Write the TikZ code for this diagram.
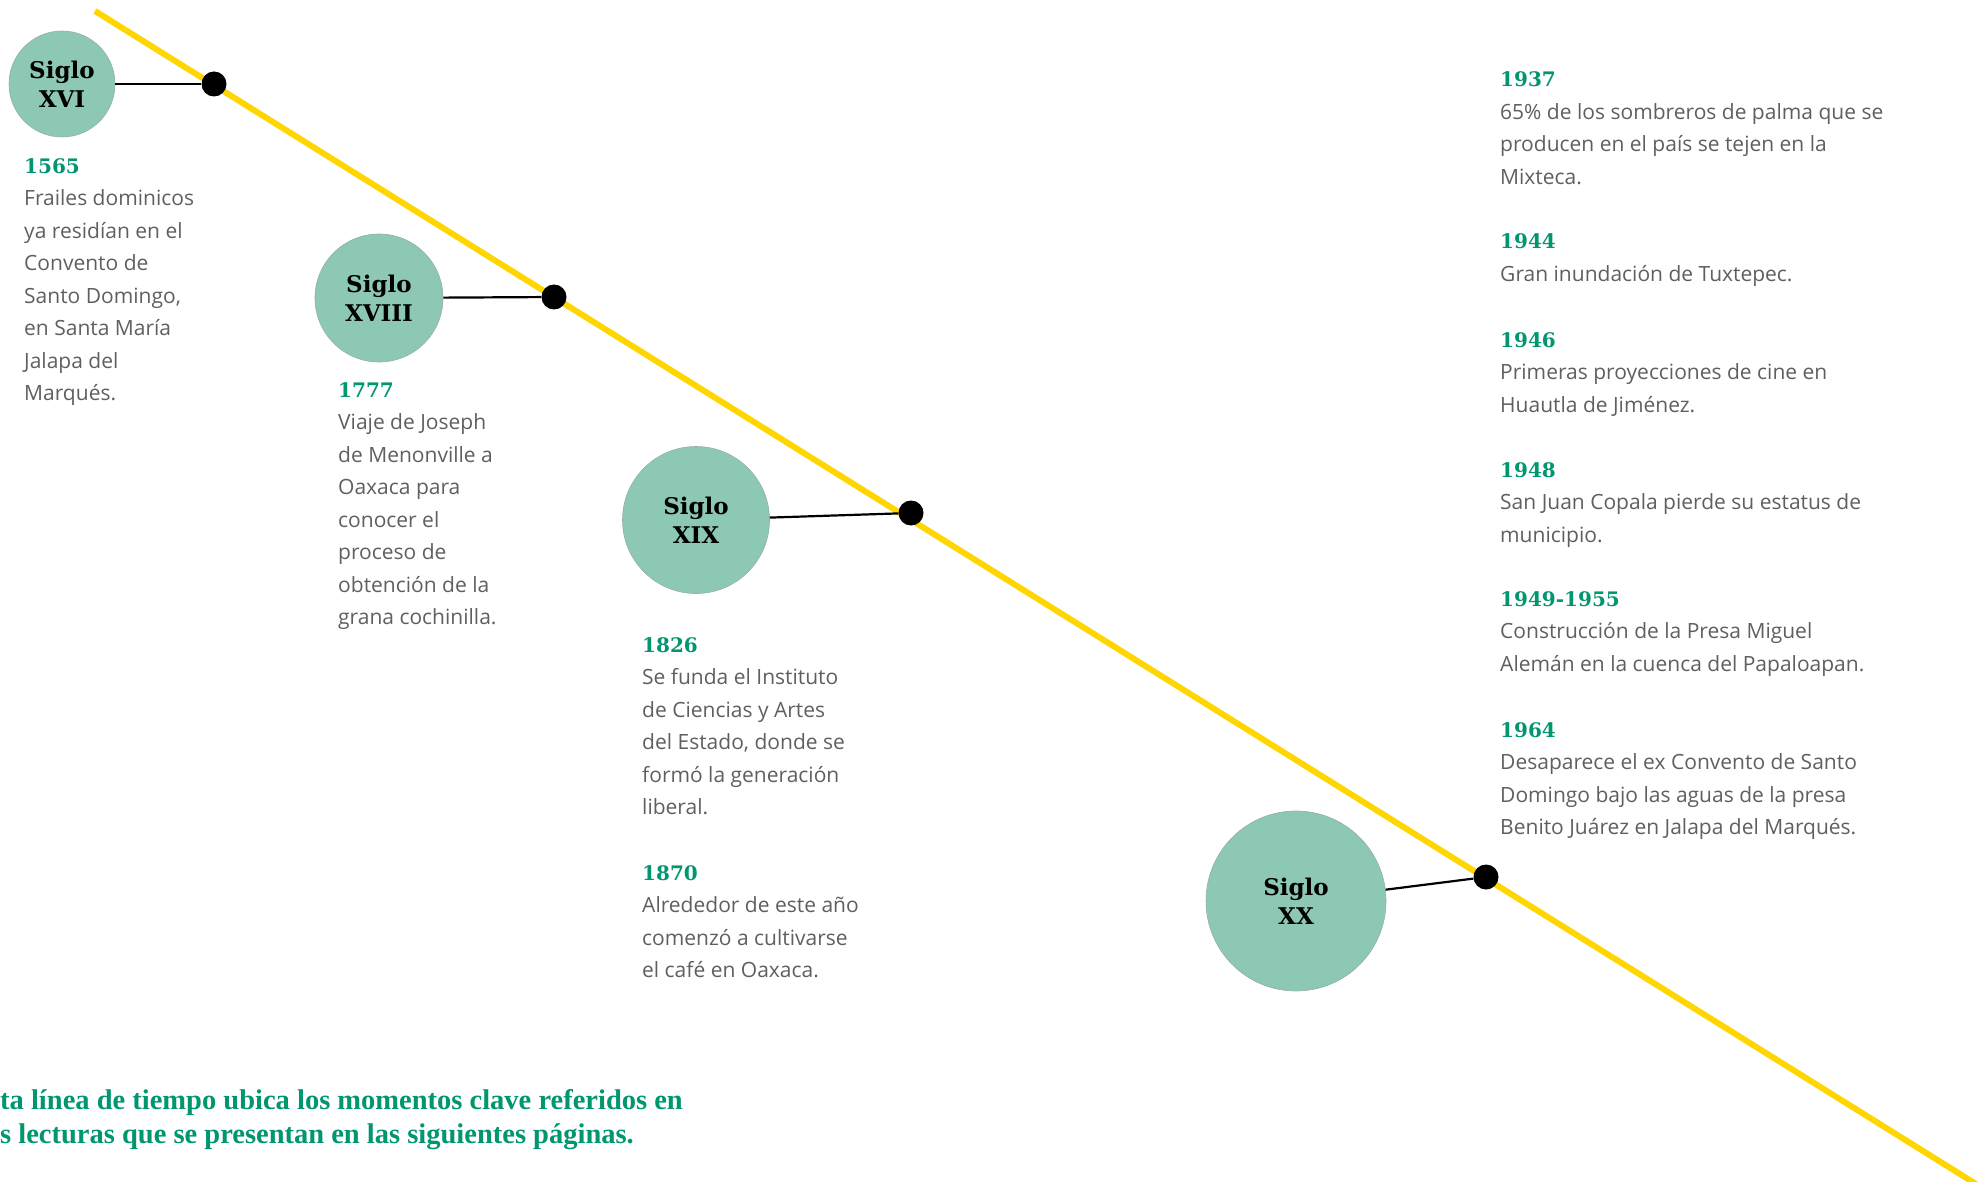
\documentclass[tikz,border=0pt]{standalone}
\usepackage{fontspec}
\setmainfont{Open Sans}
\newfontfamily\titulo{DejaVu Serif}
\newfontfamily\pie{Liberation Serif}
\definecolor{verde}{RGB}{0,150,112}
\definecolor{circulo}{RGB}{140,200,180}
\definecolor{borde}{RGB}{150,175,165}
\definecolor{amarillo}{RGB}{255,214,0}
\definecolor{gris}{RGB}{95,95,95}
\newcommand{\anio}[1]{{\titulo\bfseries\fontsize{20}{32.5}\selectfont\color{verde}#1}}
\tikzset{
  linea/.style={amarillo, line width=6pt},
  siglo/.style={circle, fill=circulo, draw=borde, line width=0.6pt, align=center,
    inner sep=0pt, font=\titulo\bfseries\fontsize{23}{29}\selectfont},
  punto/.style={circle, fill=black, minimum size=25pt, inner sep=0pt},
  enlace/.style={black, line width=2.2pt},
  evento/.style={anchor=base west, align=left, inner sep=0pt, text=gris,
    font=\fontsize{21}{32.5}\selectfont}
}

\begin{document}
\begin{tikzpicture}[x=1pt, y=-1pt]
\clip (0,0) rectangle (1987,1182);
%The time line
	\coordinate (inicio) at (95,11);
	\coordinate (fin) at (2000,1199);
	\draw[linea] (inicio) -- (fin);
%The centuries
	\node[siglo, minimum size=106pt] (s16) at (62,84) {Siglo\\XVI};
	\node[siglo, minimum size=128pt] (s18) at (379,298) {Siglo\\XVIII};
	\node[siglo, minimum size=147pt] (s19) at (696,520) {Siglo\\XIX};
	\node[siglo, minimum size=180pt] (s20) at (1296,901) {Siglo\\XX};
%The dots on the line
	\node[punto] (p16) at (214,84) {};
	\node[punto] (p18) at (554,297) {};
	\node[punto] (p19) at (911,513) {};
	\node[punto] (p20) at (1486,877) {};
	\draw[enlace] (s16) -- (p16);
	\draw[enlace] (s18) -- (p18);
	\draw[enlace] (s19) -- (p19);
	\draw[enlace] (s20) -- (p20);
%The events (anchored at the last line)
	\node[evento] (e1565) at (24,400.5) {\anio{1565}\\Frailes dominicos\\ya residían en el\\Convento de\\Santo Domingo,\\en Santa María\\Jalapa del\\Marqués.};
	\node[evento] (e1777) at (338,624.5) {\anio{1777}\\Viaje de Joseph\\de Menonville a\\Oaxaca para\\conocer el\\proceso de\\obtención de la\\grana cochinilla.};
	\node[evento] (e1826) at (642,814.5) {\anio{1826}\\Se funda el Instituto\\de Ciencias y Artes\\del Estado, donde se\\formó la generación\\liberal.};
	\node[evento] (e1870) at (642,977.5) {\anio{1870}\\Alrededor de este año\\comenzó a cultivarse\\el café en Oaxaca.};
%The twentieth century
	\node[evento] (e1937) at (1500,184.5) {\anio{1937}\\65\% de los sombreros de palma que se\\producen en el país se tejen en la\\Mixteca.};
	\node[evento] (e1944) at (1500,281.5) {\anio{1944}\\Gran inundación de Tuxtepec.};
	\node[evento] (e1946) at (1500,412) {\anio{1946}\\Primeras proyecciones de cine en\\Huautla de Jiménez.};
	\node[evento] (e1948) at (1500,542) {\anio{1948}\\San Juan Copala pierde su estatus de\\municipio.};
	\node[evento] (e1949) at (1500,671) {\anio{1949-1955}\\Construcción de la Presa Miguel\\Alemán en la cuenca del Papaloapan.};
	\node[evento] (e1964) at (1500,834.5) {\anio{1964}\\Desaparece el ex Convento de Santo\\Domingo bajo las aguas de la presa\\Benito Juárez en Jalapa del Marqués.};
%The note
	\node[anchor=base west, align=left, inner sep=0pt, text=verde,
	  font=\pie\bfseries\fontsize{28.5}{34}\selectfont] (nota) at (0,1143)
	  {ta línea de tiempo ubica los momentos clave referidos en\\s lecturas que se presentan en las siguientes páginas.};
\end{tikzpicture}
\end{document}
